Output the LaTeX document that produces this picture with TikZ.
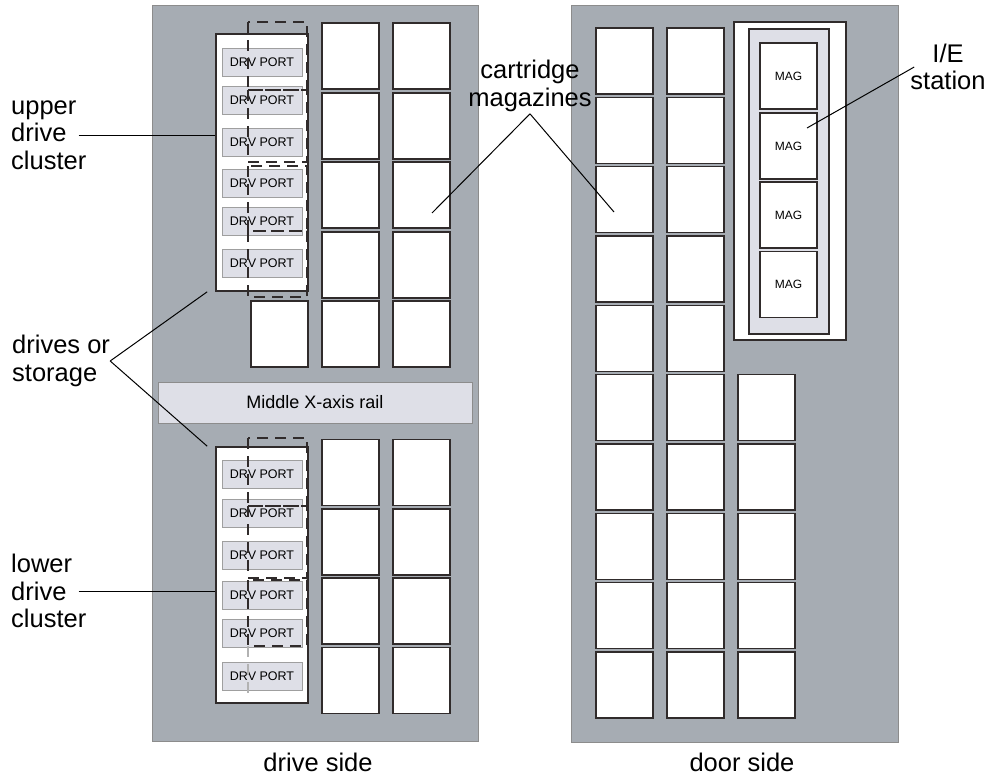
\documentclass[tikz,border=0pt]{standalone}
\usepackage{fontspec}
\setmainfont{Liberation Sans}
\usetikzlibrary{calc}

\definecolor{panelgray}{RGB}{166,172,179}
\definecolor{portgray}{RGB}{222,223,231}
\definecolor{boxline}{RGB}{48,43,43}

\tikzset{
  mag/.style={draw=boxline, line width=1.6pt, fill=white, inner sep=0pt,
    minimum width=57pt, minimum height=66pt, font=\fontsize{12}{14}\selectfont},
  drvport/.style={draw=gray!75, line width=1pt, fill=portgray, inner sep=0pt,
    minimum width=80pt, minimum height=28pt, font=\fontsize{12.5}{14}\selectfont},
  cluster/.style={draw=boxline, line width=1.6pt, fill=white, inner sep=0pt,
    minimum width=92pt},
  callout/.style={align=left, inner sep=0pt, font=\fontsize{25.5}{27.5}\selectfont},
  pointer/.style={line width=1pt},
  dashline/.style={draw=boxline, line width=2.2pt, dash pattern=on 11pt off 7pt}
}

\begin{document}
\begin{tikzpicture}[x=1pt,y=-1pt]
  \useasboundingbox (0,0) rectangle (1002,779);
  % the two sides of the library
  \draw[fill=panelgray, draw=gray!90] (152,5) rectangle (478,741);
  \draw[fill=panelgray, draw=gray!90] (571,5) rectangle (898,742);

  % drive side
  \node[cluster, minimum height=257pt] (ucl) at (262,162.5) {};
  \node[cluster, minimum height=256pt] (lcl) at (262,575) {};
  \foreach \i/\y in {1/62,2/100.5,3/142.5,4/183.5,5/221.5,6/263}
    \node[drvport] (up\i) at (262,\y) {DRV PORT};
  \foreach \i/\y in {1/474,2/513,3/555,4/595.5,5/633.5,6/676.5}
    \node[drvport] (lp\i) at (262,\y) {DRV PORT};
  \draw[dashline] (248,22) rectangle (307,90) (248,90) rectangle (307,162)
    (248,166) rectangle (307,231) (248,231) rectangle (307,297);
  \draw[dashline] (248,438) rectangle (307,506) (248,506) rectangle (307,578)
    (248,580) rectangle (307,646);
  \draw[dashline, draw=gray!60] (248,646) -- (248,695);
  \foreach \r/\y in {1/56,2/126,3/195,4/265,5/334} {
    \node[mag] (ua\r) at (350.5,\y) {};
    \node[mag] (ub\r) at (421.5,\y) {};
  }
  \node[mag] (ux) at (279.5,334) {};
  \foreach \r/\y in {1/472.5,2/542,3/611,4/680.5} {
    \node[mag] (la\r) at (350.5,\y) {};
    \node[mag] (lb\r) at (421.5,\y) {};
  }
  \node[draw=gray!90, fill=portgray, minimum width=314pt, minimum height=41pt,
    font=\fontsize{18}{20}\selectfont] (rail) at (315,402.5) {Middle X-axis rail};

  % door side
  \foreach \r in {0,...,9} {
    \pgfmathsetmacro{\y}{61+69.33*\r}
    \node[mag] (da\r) at (624.5,\y) {};
    \node[mag] (db\r) at (695.5,\y) {};
    \ifnum\r>4 \node[mag] (dc\r) at (766.5,\y) {}; \fi
  }
  \node[cluster, minimum width=112pt, minimum height=318pt] (ie) at (790,181) {};
  \node[draw=boxline, line width=1.6pt, fill=portgray, minimum width=80pt,
    minimum height=305pt] (iein) at (789,181.5) {};
  \foreach \i/\y in {1/76,2/146,3/215,4/284.5}
    \node[mag] (mag\i) at (788.5,\y) {MAG};

  % labels
  \node[callout, anchor=west] (uplbl) at (11,135) {upper\\drive\\cluster};
  \node[callout, anchor=west] (dslbl) at (12,361) {drives or\\storage};
  \node[callout, anchor=west] (lolbl) at (11,591) {lower\\drive\\cluster};
  \node[callout, align=center] (cmlbl) at (530,86) {cartridge\\magazines};
  \node[callout, align=center] (ielbl) at (948,67) {I/E\\station};
  \node[callout] (drside) at (318,762) {drive side};
  \node[callout] (dside) at (742,762) {door side};

  \coordinate (dsup) at ([xshift=-8]ucl.south west);
  \coordinate (dslo) at ([xshift=-8]lcl.north west);
  \coordinate (cmleft) at (432,213);
  \coordinate (cmright) at (614,212);
  \coordinate (ietip) at (807,128);
  \draw[pointer] ([xshift=-8]uplbl.east) -- (uplbl.east -| ucl.west);
  \draw[pointer] ([xshift=-8]lolbl.east) -- (lolbl.east -| lcl.west);
  \draw[pointer] (dslbl.east) -- (dsup) (dslbl.east) -- (dslo);
  \draw[pointer] ([yshift=-2]cmlbl.south) -- (cmleft)
    ([yshift=-2]cmlbl.south) -- (cmright);
  \draw[pointer] ([xshift=4]ielbl.west) -- (ietip);
\end{tikzpicture}
\end{document}
